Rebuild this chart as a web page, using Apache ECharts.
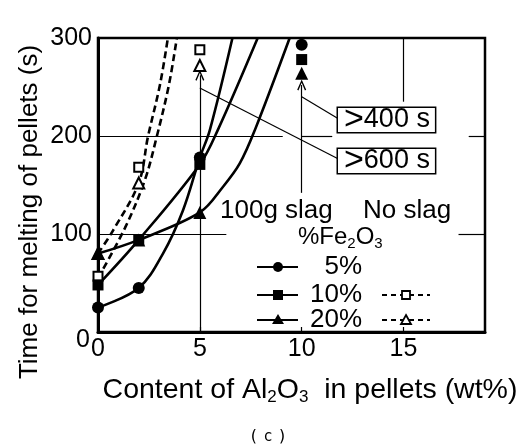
<!DOCTYPE html>
<html>
<head>
<meta charset="utf-8">
<script src="https://cdn.jsdelivr.net/npm/echarts@6/dist/echarts.min.js"></script>
<style>
  html, body { margin: 0; padding: 0; background: #fff; }
  #chart { width: 525px; height: 446px; }
</style>
</head>
<body>
<div id="chart"></div>
<script>
// Melting time of pellets vs. Al2O3 content, with 100 g slag and without slag

const xTicks = [0, 5, 10, 15];
const yTicks = [0, 100, 200, 300];

// measured points, 100 g slag (5, 10, 20 % Fe2O3)
const slag5  = [[0, 25], [2, 45], [5, 178]];
const slag10 = [[0, 48], [2, 94], [5, 171]];
const slag20 = [[0, 80], [2, 94], [5, 122]];

// measured points, no slag (10, 20 % Fe2O3)
const noSlag10 = [[0, 57], [2, 168]];
const noSlag20 = [[0, 80], [2, 152]];

// results beyond the frame, stacked at the top (>400 s with slag, >600 s without)
const over400s5  = [[10, 293]];
const over400s10 = [[10, 278]];
const over400s20 = [[10, 264]];
const over600n10 = [[5, 288]];
const over600n20 = [[5, 272]];

// fitted curves through the points
const fit5    = [[0, 25], [2, 45], [3.19, 80], [4.17, 124], [5, 178], [5.49, 206], [6.6, 300]];
const fit10   = [[0, 48], [2, 94], [5, 171], [5.88, 206], [7.84, 300]];
const fit20   = [[0, 80], [2, 94], [5, 122], [6.13, 148], [6.96, 172], [7.7, 206], [9.41, 300]];
const fitNo10 = [[0, 55], [1.32, 106], [2.3, 155], [2.88, 199], [3.48, 252], [3.87, 300]];
const fitNo20 = [[0, 80], [0.75, 104], [2, 152], [2.45, 199], [3.04, 252], [3.43, 300]];

const FONT = '"Liberation Sans", Arial, sans-serif';
const INK = '#000';
const chevron = 'path://M0,10 L5,0 L10,10 L8.6,10.8 L5,3.2 L1.4,10.8 Z';

function fitSeries(data, dashed) {
  return {
    type: 'line', data: data, smooth: 0.35, showSymbol: false, silent: true, z: 3,
    lineStyle: { color: INK, width: 2.6, opacity: 1, type: dashed ? [7, 4] : 'solid' }
  };
}
// point markers: a line series with its connecting line hidden
function markSeries(data, symbol, size, open) {
  return {
    type: 'line', data: data, symbol: symbol, symbolSize: size, showSymbol: true,
    showAllSymbol: true, silent: true, z: open ? 5 : 6,
    lineStyle: { width: 0, opacity: 0 },
    emphasis: { disabled: true },
    itemStyle: open ? { color: '#fff', borderColor: INK, borderWidth: 2, opacity: 1 }
                    : { color: INK, borderColor: INK, borderWidth: 0, opacity: 1 }
  };
}
function seg(a, b, arrow) {
  return [{ coord: a, symbol: 'none' },
          { coord: b, symbol: arrow ? chevron : 'none', symbolSize: [9, 11] }];
}

const chart = echarts.init(document.getElementById('chart'), null, { renderer: 'canvas' });

const option = {
  animation: false,
  backgroundColor: '#fff',
  grid: { left: 98, top: 38, width: 387, height: 294, show: true,
          borderColor: INK, borderWidth: 2.5, backgroundColor: 'transparent' },
  xAxis: {
    type: 'value', min: 0, max: 19, interval: 5,
    axisLine: { lineStyle: { color: INK, width: 3 } },
    axisTick: { show: true, inside: true, length: 5, customValues: xTicks,
                lineStyle: { color: INK, width: 1.2 } },
    axisLabel: { color: INK, fontSize: 25, fontFamily: FONT, margin: 5, customValues: xTicks },
    splitLine: { show: false }
  },
  yAxis: {
    type: 'value', min: 0, max: 300, interval: 100,
    axisLine: { show: true, lineStyle: { color: INK, width: 3 } },
    axisTick: { show: false },
    axisLabel: {
      color: INK, fontSize: 25, fontFamily: FONT, margin: 6,
      customValues: yTicks,
      formatter: v => (v === 0 ? '{z|0}' : String(v)),
      rich: { z: { fontSize: 25, fontFamily: FONT, color: INK, padding: [16, 2, 0, 0] } }
    },
    splitLine: { show: false }
  },
  series: [
    // reference lines, leader lines and arrows
    {
      type: 'line', data: [], silent: true, z: 2,
      markLine: {
        silent: true, animation: false, label: { show: false },
        lineStyle: { color: INK, width: 1.2, type: 'solid', opacity: 1 },
        emphasis: { disabled: true },
        data: [
          seg([0, 200], [9.07, 200]), seg([10, 200], [11.5, 200]), seg([18.2, 200], [19, 200]),
          seg([0, 100], [6.3, 100]), seg([17.7, 100], [19, 100]),
          seg([5, 0], [5, 262], true),
          seg([10, 142], [10, 252], true),
          seg([15, 235], [15, 300]),
          seg([11.76, 218], [10, 240]),
          seg([11.76, 177], [5, 249])
        ]
      }
    },
    fitSeries(fit5), fitSeries(fit10), fitSeries(fit20),
    fitSeries(fitNo10, true), fitSeries(fitNo20, true),
    markSeries(noSlag20, 'triangle', 11, true),
    markSeries(noSlag10, 'rect', 9, true),
    markSeries(slag20, 'triangle', 13),
    markSeries(slag10, 'rect', 11),
    markSeries(slag5, 'circle', 12),
    markSeries(over400s5, 'circle', 12),
    markSeries(over400s10, 'rect', 11),
    markSeries(over400s20, 'triangle', 13),
    markSeries(over600n10, 'rect', 9, true),
    markSeries(over600n20, 'triangle', 11, true)
  ],
  graphic: [
    // axis titles
    { type: 'text', x: 30, y: 212, rotation: Math.PI / 2, silent: true,
      style: { text: 'Time for melting of pellets (s)', fontSize: 26, fontFamily: FONT,
               fill: INK, align: 'center', verticalAlign: 'middle' } },
    { type: 'text', x: 310, y: 390, silent: true,
      style: { text: '{a|Content of Al}{s|2}{a|O}{s|3}{a|  in pellets (wt%)}',
               align: 'center', verticalAlign: 'middle', fill: INK,
               rich: { a: { fontSize: 28.5, fontFamily: FONT, lineHeight: 32, fill: INK },
                       s: { fontSize: 17, fontFamily: FONT, lineHeight: 15, verticalAlign: 'bottom', fill: INK } } } },
    { type: 'text', x: 268, y: 437, silent: true,
      style: { text: '{p|(}{c|c}{p|)}', align: 'center', verticalAlign: 'middle', fill: INK,
               rich: { p: { fontSize: 16, fontFamily: '"DejaVu Sans Mono", monospace', fill: INK },
                       c: { fontSize: 15, fontFamily: '"DejaVu Sans Mono", monospace', fill: INK,
                            padding: [0, 5, 0, 5] } } } },

    // off-scale callouts
    { type: 'text', x: 338, y: 108, silent: true, z: 10,
      style: { text: '{g|>}{t|400 s}', backgroundColor: '#fff', borderColor: INK, borderWidth: 1.5,
               padding: [0, 5, 0, 6], fill: INK,
               rich: { g: { fontSize: 34, fontFamily: FONT, lineHeight: 24, fill: INK },
                       t: { fontSize: 27, fontFamily: FONT, lineHeight: 24, fill: INK } } } },
    { type: 'text', x: 338, y: 149, silent: true, z: 10,
      style: { text: '{g|>}{t|600 s}', backgroundColor: '#fff', borderColor: INK, borderWidth: 1.5,
               padding: [0, 5, 0, 6], fill: INK,
               rich: { g: { fontSize: 34, fontFamily: FONT, lineHeight: 24, fill: INK },
                       t: { fontSize: 27, fontFamily: FONT, lineHeight: 24, fill: INK } } } },

    // key
    { type: 'text', x: 220, y: 211, silent: true,
      style: { text: '100g slag', fontSize: 26, fontFamily: FONT, fill: INK, verticalAlign: 'middle' } },
    { type: 'text', x: 363, y: 211, silent: true,
      style: { text: 'No slag', fontSize: 26, fontFamily: FONT, fill: INK, verticalAlign: 'middle' } },
    { type: 'text', x: 298, y: 237, silent: true,
      style: { text: '{a|%Fe}{s|2}{a|O}{s|3}', verticalAlign: 'middle', fill: INK,
               rich: { a: { fontSize: 24, fontFamily: FONT, lineHeight: 28, fill: INK },
                       s: { fontSize: 15, fontFamily: FONT, lineHeight: 13, verticalAlign: 'bottom', fill: INK } } } },
    { type: 'text', x: 362, y: 267, silent: true,
      style: { text: '5%', fontSize: 26, fontFamily: FONT, fill: INK, align: 'right', verticalAlign: 'middle' } },
    { type: 'text', x: 362, y: 295, silent: true,
      style: { text: '10%', fontSize: 26, fontFamily: FONT, fill: INK, align: 'right', verticalAlign: 'middle' } },
    { type: 'text', x: 362, y: 320, silent: true,
      style: { text: '20%', fontSize: 26, fontFamily: FONT, fill: INK, align: 'right', verticalAlign: 'middle' } },

    { type: 'line', silent: true, shape: { x1: 257, y1: 267, x2: 298, y2: 267 }, style: { stroke: INK, lineWidth: 2.2 } },
    { type: 'circle', silent: true, shape: { cx: 278, cy: 267, r: 5 }, style: { fill: INK } },
    { type: 'line', silent: true, shape: { x1: 257, y1: 295, x2: 298, y2: 295 }, style: { stroke: INK, lineWidth: 2.2 } },
    { type: 'rect', silent: true, shape: { x: 273, y: 290, width: 10, height: 10 }, style: { fill: INK } },
    { type: 'line', silent: true, shape: { x1: 257, y1: 320, x2: 298, y2: 320 }, style: { stroke: INK, lineWidth: 2.2 } },
    { type: 'polygon', silent: true, shape: { points: [[278, 314], [284, 324], [272, 324]] }, style: { fill: INK } },

    { type: 'line', silent: true, shape: { x1: 382, y1: 295, x2: 430, y2: 295 },
      style: { stroke: INK, lineWidth: 2.2, lineDash: [5, 4] } },
    { type: 'rect', silent: true, shape: { x: 402, y: 291, width: 8, height: 8 },
      style: { fill: '#fff', stroke: INK, lineWidth: 1.8 } },
    { type: 'line', silent: true, shape: { x1: 382, y1: 320, x2: 430, y2: 320 },
      style: { stroke: INK, lineWidth: 2.2, lineDash: [5, 4] } },
    { type: 'polygon', silent: true, shape: { points: [[406, 315], [411, 324], [401, 324]] },
      style: { fill: '#fff', stroke: INK, lineWidth: 1.8 } }
  ]
};

chart.setOption(option);
</script>
</body>
</html>
